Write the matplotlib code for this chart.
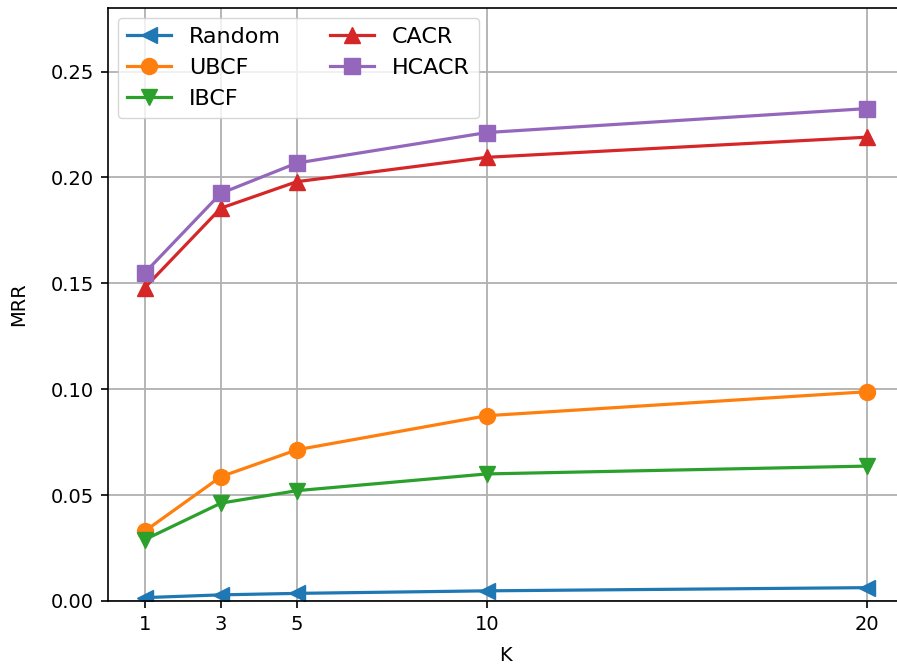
import matplotlib
matplotlib.use("Agg")
import matplotlib.pyplot as plt

k = [1, 3, 5, 10, 20]
random_mrr = [0.0016, 0.0029, 0.0036, 0.0048, 0.0063]
ubcf = [0.033, 0.0587, 0.0714, 0.0875, 0.0988]
ibcf = [0.029, 0.0462, 0.0521, 0.0600, 0.0637]
cacr = [0.148, 0.1855, 0.1980, 0.2095, 0.2190]
hcacr = [0.155, 0.1925, 0.2068, 0.2212, 0.2325]

series = [
    ("Random", random_mrr, "<"),
    ("UBCF", ubcf, "o"),
    ("IBCF", ibcf, "v"),
    ("CACR", cacr, "^"),
    ("HCACR", hcacr, "s"),
]

plt.rcParams['font.size'] = 14
fig = plt.figure(figsize=(8.97, 6.66), dpi=100)
ax = fig.add_axes([108 / 897, 65 / 666, 795 / 897, 593 / 666])

for nombre, valores, marca in series:
    ax.plot(k, valores, marker=marca, markersize=11.5, linewidth=2.3, label=nombre)

ax.set_xticks(k)
ax.set_xlim(0.03, 20.95)
ax.set_ylim(0, 0.28)
ax.set_yticks([0, 0.05, 0.10, 0.15, 0.20, 0.25])
ax.set_xlabel("K", labelpad=9)
ax.set_ylabel("MRR", labelpad=16)
ax.grid(True, linewidth=1.3)
ax.tick_params(length=5, width=1.2, pad=5)
for s in ax.spines.values():
    s.set_linewidth(1.2)
ax.legend(ncol=2, loc="upper left", fontsize=16, columnspacing=2.2,
          borderaxespad=0.45)

fig.savefig("out.png", dpi=100)
